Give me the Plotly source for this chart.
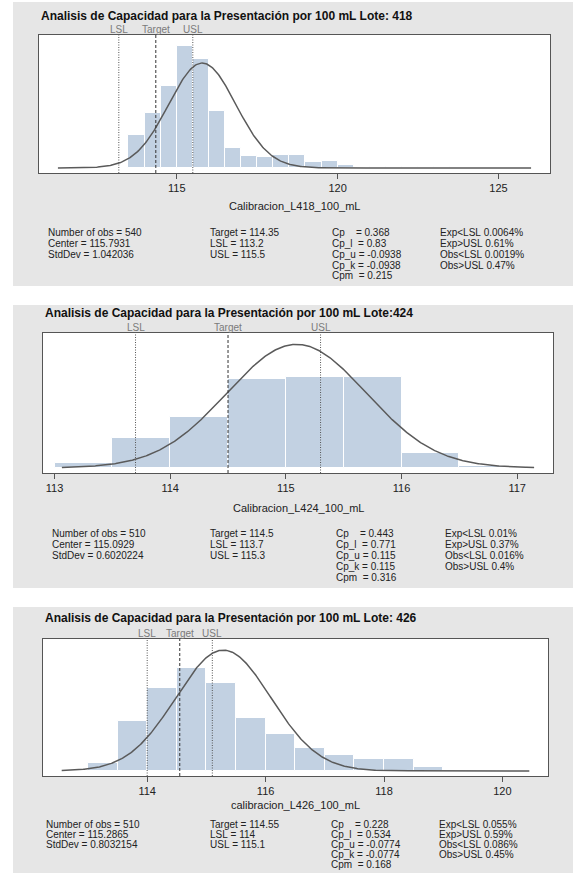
import numpy as np
import plotly.graph_objects as go

W, H = 573, 888
FONT = "Liberation Sans, Arial, Helvetica, sans-serif"

# ---------------- Lote 418 ----------------
title_418 = "Analisis de Capacidad para la Presentación por 100 mL Lote: 418"
xlab_418 = "Calibracion_L418_100_mL"
edges_418 = [113.5, 114.0, 114.5, 115.0, 115.5, 116.0, 116.5, 117.0, 117.5, 118.0,
             118.5, 119.0, 119.5, 120.0, 120.5, 121.0, 121.5, 122.0, 122.5, 123.0]
counts_418 = [32, 54, 81, 120, 107, 56, 20, 12, 11, 13, 13, 6, 7, 3, 1, 1, 1, 1, 0, 1]
n_418, center_418, sd_418 = 540, 115.7931, 1.042036
lsl_418, target_418, usl_418 = 113.2, 114.35, 115.5
ticks_418 = [115, 120, 125]
stats_418 = [
    ["Number of obs = 540", "Center = 115.7931", "StdDev = 1.042036"],
    ["Target = 114.35", "LSL = 113.2", "USL = 115.5"],
    ["Cp    = 0.368", "Cp_l  = 0.83", "Cp_u = -0.0938", "Cp_k = -0.0938", "Cpm  = 0.215"],
    ["Exp&lt;LSL 0.0064%", "Exp&gt;USL 0.61%", "Obs&lt;LSL 0.0019%", "Obs&gt;USL 0.47%"],
]

# ---------------- Lote 424 ----------------
title_424 = "Analisis de Capacidad para la Presentación por 100 mL Lote:424"
xlab_424 = "Calibracion_L424_100_mL"
edges_424 = [113.0, 113.5, 114.0, 114.5, 115.0, 115.5, 116.0, 116.5]
counts_424 = [6, 41, 70, 122, 124, 124, 20, 3]
n_424, center_424, sd_424 = 510, 115.0929, 0.6020224
lsl_424, target_424, usl_424 = 113.7, 114.5, 115.3
ticks_424 = [113, 114, 115, 116, 117]
stats_424 = [
    ["Number of obs = 510", "Center = 115.0929", "StdDev = 0.6020224"],
    ["Target = 114.5", "LSL = 113.7", "USL = 115.3"],
    ["Cp    = 0.443", "Cp_l  = 0.771", "Cp_u = 0.115", "Cp_k = 0.115", "Cpm  = 0.316"],
    ["Exp&lt;LSL 0.01%", "Exp&gt;USL 0.37%", "Obs&lt;LSL 0.016%", "Obs&gt;USL 0.4%"],
]

# ---------------- Lote 426 ----------------
title_426 = "Analisis de Capacidad para la Presentación por 100 mL Lote: 426"
xlab_426 = "calibracion_L426_100_mL"
edges_426 = [113.0, 113.5, 114.0, 114.5, 115.0, 115.5, 116.0, 116.5, 117.0, 117.5, 118.0, 118.5]
counts_426 = [8, 52, 87, 108, 92, 55, 39, 24, 17, 12, 12, 4]
n_426, center_426, sd_426 = 510, 115.2865, 0.8032154
lsl_426, target_426, usl_426 = 114.0, 114.55, 115.1
ticks_426 = [114, 116, 118, 120]
stats_426 = [
    ["Number of obs = 510", "Center = 115.2865", "StdDev = 0.8032154"],
    ["Target = 114.55", "LSL = 114", "USL = 115.1"],
    ["Cp    = 0.228", "Cp_l  = 0.534", "Cp_u = -0.0774", "Cp_k = -0.0774", "Cpm  = 0.168"],
    ["Exp&lt;LSL 0.055%", "Exp&gt;USL 0.59%", "Obs&lt;LSL 0.086%", "Obs&gt;USL 0.45%"],
]

BIN_W = 0.5

panels = [
    dict(title=title_418, xlab=xlab_418, edges=edges_418, counts=counts_418, n=n_418,
         center=center_418, sd=sd_418, specs=(lsl_418, target_418, usl_418),
         ticks=ticks_418, stats=stats_418,
         gray=(13, 2, 573, 286), frame=(39, 35, 550, 173), xr=(110.72, 126.6),
         title_y=16, axt_y=206, stats_y=232, dy=11, cols=(46, 208, 330, 438)),
    dict(title=title_424, xlab=xlab_424, edges=edges_424, counts=counts_424, n=n_424,
         center=center_424, sd=sd_424, specs=(lsl_424, target_424, usl_424),
         ticks=ticks_424, stats=stats_424,
         gray=(13, 305, 573, 588), frame=(43, 333, 553, 473), xr=(112.9, 117.31),
         title_y=313, axt_y=508, stats_y=533, dy=11.2, cols=(50, 208, 334, 443)),
    dict(title=title_426, xlab=xlab_426, edges=edges_426, counts=counts_426, n=n_426,
         center=center_426, sd=sd_426, specs=(lsl_426, target_426, usl_426),
         ticks=ticks_426, stats=stats_426,
         gray=(13, 607, 573, 873), frame=(43, 639, 548, 776), xr=(112.24, 120.77),
         title_y=618, axt_y=805, stats_y=824, dy=10, cols=(44, 208, 329, 437)),
]


def px(x):
    return x / W


def py(y):
    return 1 - y / H


fig = go.Figure()
shapes, annotations = [], []

# panel backgrounds first, then the white plotting regions on top of them
for p in panels:
    gx0, gy0, gx1, gy1 = p["gray"]
    shapes.append(dict(type="rect", xref="paper", yref="paper", layer="below",
                       x0=px(gx0), x1=px(gx1), y0=py(gy1), y1=py(gy0),
                       fillcolor="#e6e6e6", line=dict(width=0)))
for p in panels:
    l, t, r, b = p["frame"]
    shapes.append(dict(type="rect", xref="paper", yref="paper", layer="below",
                       x0=px(l), x1=px(r), y0=py(b), y1=py(t),
                       fillcolor="white", line=dict(width=0)))

for i, p in enumerate(panels, start=1):
    sfx = "" if i == 1 else str(i)
    xa, ya = "x" + sfx, "y" + sfx
    l, t, r, b = p["frame"]

    edges = np.array(p["edges"], dtype=float)
    dens = np.array(p["counts"], dtype=float) / (p["n"] * BIN_W)
    fig.add_trace(go.Bar(
        x=edges + BIN_W / 2, y=dens, width=BIN_W, xaxis=xa, yaxis=ya,
        marker=dict(color="#c2d1e2", line=dict(color="white", width=1)),
        showlegend=False, hoverinfo="skip"))

    # fitted normal density over the data span of the axis
    x0, x1 = p["xr"]
    pad = (x1 - x0) * 0.04 / 1.08
    xs = np.linspace(x0 + pad, x1 - pad, 500)
    ys = np.exp(-0.5 * ((xs - p["center"]) / p["sd"]) ** 2) / (p["sd"] * np.sqrt(2 * np.pi))
    fig.add_trace(go.Scatter(x=xs, y=ys, mode="lines", xaxis=xa, yaxis=ya,
                             line=dict(color="#5a5a5a", width=1.5),
                             showlegend=False, hoverinfo="skip"))

    top = 1.05 * max(dens.max(), ys.max())
    yr = [-0.04 * top, 1.04 * top]

    fig.layout["xaxis" + sfx] = dict(
        domain=[px(l), px(r)], range=list(p["xr"]), anchor=ya,
        showline=True, mirror=True, linecolor="#555", linewidth=1.2,
        ticks="outside", ticklen=5, tickwidth=1, tickcolor="#555",
        tickvals=p["ticks"], tickfont=dict(family=FONT, size=11, color="#222"),
        showgrid=False, zeroline=False, fixedrange=True)
    fig.layout["yaxis" + sfx] = dict(
        domain=[py(b), py(t)], range=yr, anchor=xa,
        showline=True, mirror=True, linecolor="#555", linewidth=1.2,
        ticks="", showticklabels=False, showgrid=False, zeroline=False, fixedrange=True)

    # specification limits and target
    for val, name, dash, col in zip(p["specs"], ["LSL", "Target", "USL"],
                                    ["1px,1.5px", "3px,2px", "1px,1.5px"],
                                    ["#555", "#333", "#555"]):
        shapes.append(dict(type="line", xref=xa, yref=ya + " domain",
                           x0=val, x1=val, y0=0, y1=1,
                           line=dict(color=col, width=1, dash=dash)))
        annotations.append(dict(x=val, xref=xa, y=py(t - 5.5), yref="paper",
                                text=name, showarrow=False, xanchor="center", yanchor="middle",
                                font=dict(family=FONT, size=10, color="#7a7a7a")))

    annotations.append(dict(x=px(l), y=py(p["title_y"]), xref="paper", yref="paper",
                            text="<b>" + p["title"] + "</b>", showarrow=False,
                            xanchor="left", yanchor="middle",
                            font=dict(family=FONT, size=12, color="#111")))
    annotations.append(dict(x=px((l + r) / 2), y=py(p["axt_y"]), xref="paper", yref="paper",
                            text=p["xlab"], showarrow=False, xanchor="center", yanchor="middle",
                            font=dict(family=FONT, size=11, color="#222")))

    for cx, col in zip(p["cols"], p["stats"]):
        for k, line in enumerate(col):
            annotations.append(dict(
                x=px(cx), y=py(p["stats_y"] + k * p["dy"]), xref="paper", yref="paper",
                text=line.replace(" ", "\u00a0"), showarrow=False,
                xanchor="left", yanchor="middle",
                font=dict(family=FONT, size=10, color="#222")))

fig.update_layout(
    width=W, height=H, margin=dict(l=0, r=0, t=0, b=0),
    paper_bgcolor="white", plot_bgcolor="rgba(0,0,0,0)",
    bargap=0, barmode="overlay",
    shapes=shapes, annotations=annotations, showlegend=False,
)

fig.write_html("out.html")
